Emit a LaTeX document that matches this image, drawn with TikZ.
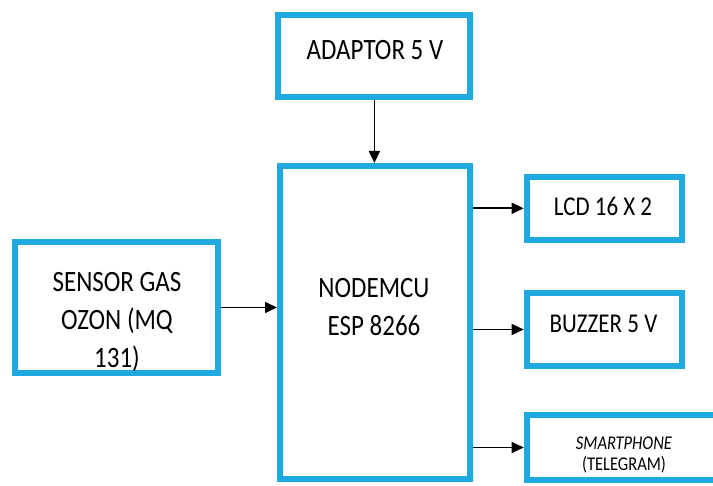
\documentclass[tikz,border=0pt]{standalone}
\usepackage{graphicx}
\usepackage{fontspec}
\setmainfont{Carlito}
\usetikzlibrary{arrows.meta}
\definecolor{boxblue}{RGB}{32,168,224}
\newcommand\boxtxt[3]{\scalebox{1}[1.18]{\fontsize{#1}{#2}\selectfont\begin{tabular}[t]{@{}c@{}}#3\end{tabular}}}
\begin{document}
\begin{tikzpicture}[x=1pt,y=-1pt,
  blk/.style={draw=boxblue, line width=6pt, fill=white, inner sep=0pt, outer sep=0pt},
  txt/.style={anchor=base, inner sep=0pt, text=black},
  arr/.style={draw=black, line width=1.6pt, -{Triangle[length=12pt,width=11pt]}, shorten <=3pt, shorten >=3pt}]
\useasboundingbox (0,0) rectangle (713,486);
\clip (0,0) rectangle (713,486);
\fill[white] (0,0) rectangle (713,486);
\node[blk, minimum width=192pt, minimum height=82pt] (adaptor) at (374.4,56) {};
\node[blk, minimum width=190pt, minimum height=313pt] (nodemcu) at (375,322.5) {};
\node[blk, minimum width=203.3pt, minimum height=131.7pt] (sensor) at (116.7,307.5) {};
\node[blk, minimum width=155pt, minimum height=63.3pt] (lcd) at (604.2,208.3) {};
\node[blk, minimum width=155pt, minimum height=73.6pt] (buzzer) at (604.2,329.5) {};
\node[blk, minimum width=193.4pt, minimum height=65pt] (phone) at (623.4,447.5) {};
\node[txt] (adaptorT) at (375,60) {\boxtxt{25}{32}{ADAPTOR 5 V}};
\node[txt] (nodemcuT) at (374,298) {\boxtxt{25}{32}{NODEMCU\\ESP 8266}};
\node[txt] (sensorT) at (117,292) {\boxtxt{25}{32}{SENSOR GAS\\OZON (MQ\\131)}};
\node[txt] (lcdT) at (603,216) {\boxtxt{23}{30}{LCD 16 X 2}};
\node[txt] (buzzerT) at (603.5,333) {\boxtxt{23}{30}{BUZZER 5 V}};
\node[txt] (phoneT) at (624,450) {\boxtxt{16.5}{17}{\textit{SMARTPHONE}\\(TELEGRAM)}};
\draw[arr] (adaptor.south) -- (adaptor.south |- nodemcu.north);
\draw[arr] (sensor.east) -- (sensor.east -| nodemcu.west);
\draw[arr] (nodemcu.east |- lcd.west) -- (lcd.west);
\draw[arr] (nodemcu.east |- buzzer.west) -- (buzzer.west);
\draw[arr] (nodemcu.east |- phone.west) -- (phone.west);
\end{tikzpicture}
\end{document}
